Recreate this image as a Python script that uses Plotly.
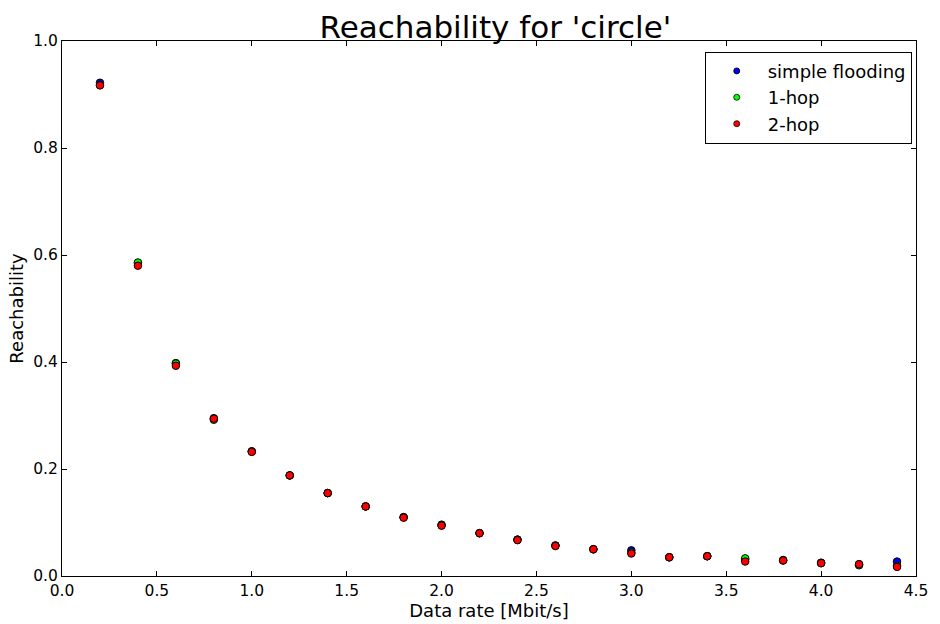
import plotly.graph_objects as go

x_rate = [0.2, 0.4, 0.6, 0.8, 1.0, 1.2, 1.4, 1.6, 1.8, 2.0, 2.2, 2.4, 2.6, 2.8, 3.0, 3.2, 3.4, 3.6, 3.8, 4.0, 4.2, 4.4]
simple_flooding = [0.922, 0.585, 0.398, 0.295, 0.233, 0.188, 0.155, 0.130, 0.110, 0.096, 0.080, 0.068, 0.057, 0.050, 0.048, 0.035, 0.037, 0.031, 0.030, 0.025, 0.022, 0.027]
one_hop = [0.918, 0.586, 0.397, 0.292, 0.233, 0.188, 0.155, 0.130, 0.110, 0.095, 0.080, 0.068, 0.057, 0.050, 0.044, 0.035, 0.037, 0.033, 0.029, 0.024, 0.020, 0.019]
two_hop = [0.917, 0.580, 0.393, 0.294, 0.232, 0.188, 0.155, 0.130, 0.109, 0.094, 0.080, 0.067, 0.056, 0.050, 0.042, 0.035, 0.037, 0.027, 0.029, 0.024, 0.022, 0.017]

series = [("simple flooding", simple_flooding, "#0000ff"),
          ("1-hop", one_hop, "#00ff00"),
          ("2-hop", two_hop, "#ff0000")]

fig = go.Figure()
for name, vals, col in series:
    fig.add_trace(go.Scatter(x=x_rate, y=vals, mode="markers", name=name, showlegend=False,
                             marker=dict(color=col, size=7.5, line=dict(color="black", width=1))))
# legend entries (smaller markers, like the reference legend)
for name, vals, col in series:
    fig.add_trace(go.Scatter(x=[None], y=[None], mode="markers", name=name, showlegend=True,
                             marker=dict(color=col, size=6, line=dict(color="black", width=0.8))))

font = "DejaVu Sans"
axis_common = dict(showline=True, linecolor="black", linewidth=1, mirror="ticks",
                   ticks="inside", ticklen=5, tickcolor="black", showgrid=False,
                   zeroline=False, tickfont=dict(family=font, size=15.5, color="black"))

fig.update_layout(
    width=940, height=624,
    margin=dict(l=62, r=16, t=41, b=44),
    paper_bgcolor="white", plot_bgcolor="white",
    title=dict(text="Reachability for 'circle'", x=0.527, xanchor="center", y=0.957, yanchor="middle",
               font=dict(family=font, size=31, color="black")),
    xaxis=dict(range=[0, 4.5], dtick=0.5, tick0=0, tickformat=".1f",
               title=dict(text="Data rate [Mbit/s]", standoff=0, font=dict(family=font, size=18, color="black")),
               **axis_common),
    yaxis=dict(range=[0, 1.0], dtick=0.2, tick0=0, tickformat=".1f",
               title=dict(text="Reachability", standoff=4, font=dict(family=font, size=18, color="black")),
               **axis_common),
    legend=dict(x=0.995, xanchor="right", y=0.98, yanchor="top", bordercolor="black", borderwidth=1,
                bgcolor="white", font=dict(family=font, size=18, color="black"),
                tracegroupgap=0, itemwidth=52),
    showlegend=True,
)

fig.write_html("out.html")
